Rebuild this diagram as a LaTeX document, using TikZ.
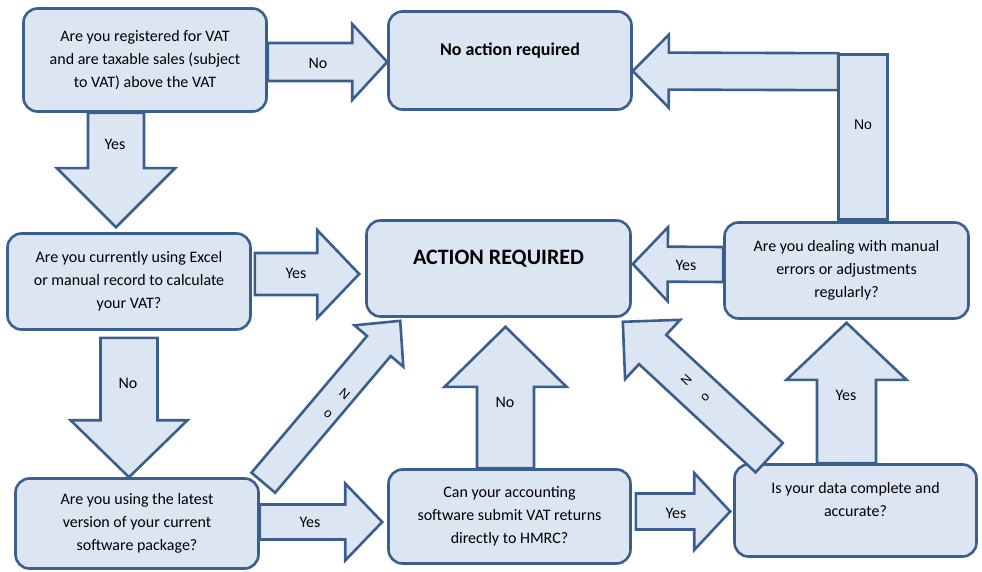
\documentclass[tikz,border=0pt]{standalone}
\usepackage{fontspec}
\setmainfont{Carlito}
\newfontfamily\arialfont{Liberation Sans}
\usetikzlibrary{calc}
\definecolor{VatEdge}{HTML}{3A5F8E}
\definecolor{VatFill}{HTML}{DCE6F2}
\tikzset{
  blkw/.store in=\blkw, blkh/.store in=\blkh, blkl/.store in=\blkl,
  blkw=18pt, blkh=38pt, blkl=36pt
}
\begin{document}
\begin{tikzpicture}[x=1pt,y=-1pt,
  qbox/.style={draw=VatEdge,fill=VatFill,line width=2.6pt,rounded corners=14pt,align=center,minimum width=243pt,inner sep=0pt,font=\fontsize{16}{23}\selectfont},
  bar/.style={draw=VatEdge,fill=VatFill,line width=2.6pt,minimum width=49pt,minimum height=165pt,inner sep=0pt},
  lbl/.style={inner sep=0pt,font=\fontsize{16}{23}\selectfont},
  dlbl/.style={inner sep=0pt,align=center,font=\arialfont\fontsize{13}{25}\selectfont},
  blk/.style={draw=VatEdge,fill=VatFill,line width=2.6pt,line join=miter,
    to path={
      ($(\tikztostart)!\blkw!90:(\tikztotarget)$)
      -- ($($(\tikztotarget)!\blkl!(\tikztostart)$)!\blkw!90:(\tikztotarget)$)
      -- ($($(\tikztotarget)!\blkl!(\tikztostart)$)!\blkh!90:(\tikztotarget)$)
      -- (\tikztotarget)
      -- ($($(\tikztotarget)!\blkl!(\tikztostart)$)!\blkh!-90:(\tikztotarget)$)
      -- ($($(\tikztotarget)!\blkl!(\tikztostart)$)!\blkw!-90:(\tikztotarget)$)
      -- ($(\tikztostart)!\blkw!-90:(\tikztotarget)$)
      -- cycle}}
]
\useasboundingbox (0,0) rectangle (982,572);

\node[qbox,minimum height=103pt] (q1) at (145,60) {Are you registered for VAT\\and are taxable sales (subject\\to VAT) above the VAT};
\node[qbox,minimum height=98pt] (noact) at (510,60.5) {\textbf{\fontsize{18}{23}\selectfont No action required}\\ \mbox{}};
\node[qbox,minimum height=96pt] (q2) at (129,281.5) {Are you currently using Excel\\or manual record to calculate\\your VAT?};
\node[qbox,minimum width=264pt,minimum height=96pt] (act) at (498.5,268.5) {\textbf{\fontsize{22}{23}\selectfont ACTION REQUIRED}\\ \mbox{}};
\node[qbox,minimum height=90pt] (q3) at (137,523.5) {Are you using the latest\\version of your current\\software package?};
\node[qbox,minimum width=242pt,minimum height=94pt] (q4) at (509.5,516.5) {Can your accounting\\software submit VAT returns\\directly to HMRC?};
\node[qbox,minimum width=242pt,minimum height=92pt] (q5) at (855.5,510.5) {Is your data complete and\\accurate?\\ \mbox{}};
\node[qbox,minimum width=244pt,minimum height=96pt] (q6) at (846.5,270.5) {Are you dealing with manual\\errors or adjustments\\regularly?};
\node[bar] (bar) at (863,137) {};

\draw[blk,blkw=19pt,blkh=38pt,blkl=35pt] ($(q1.east)+(0,2)$) to ($(noact.west)+(0,1.5)$);
\draw[blk,blkw=28pt,blkh=59pt,blkl=59pt] ($(q1.south)+(-29,0)$) to ($(q2.north)+(-13,-5)$);
\draw[blk,blkw=21pt,blkh=44pt,blkl=42pt] ($(q2.east)+(3,-7.5)$) to ($(act.west)+(-6,5.5)$);
\draw[blk,blkw=28.5pt,blkh=58.5pt,blkl=57pt] ($(q2.south)+(0,7)$) to (q2.south |- q3.north);
\draw[blk,blkw=17.5pt,blkh=38.5pt,blkl=37pt] ($(q3.east)+(0,-1.5)$) to ($(q4.west)+(-5,5.5)$);
\draw[blk,blkw=15.5pt,blkh=32pt,blkl=33pt] ($(q3.north east)+(3.5,5.5)$) to ($(act.south west)+(35,3)$);
\draw[blk,blkw=28.5pt,blkh=61pt,blkl=60pt] ($(q4.north)+(-4,0)$) to ($(act.south)+(7,9)$);
\draw[blk,blkw=18pt,blkh=38.5pt,blkl=36pt] ($(q4.east)+(4,-5)$) to ($(q5.west)+(-3,1)$);
\draw[blk,blkw=20pt,blkh=40.5pt,blkl=40.7pt] ($(q5.north west)+(36,-5.5)$) to ($(act.south east)+(-9,4)$);
\draw[blk,blkw=29.5pt,blkh=60pt,blkl=57pt] ($(q5.north)+(-9,0)$) to ($(q6.south)+(0,3)$);
\draw[blk,blkw=17.5pt,blkh=37pt,blkl=35pt] ($(q6.west)+(0,-6)$) to ($(act.east)+(1,-4.5)$);
\draw[blk,blkw=18.5pt,blkh=36.5pt,blkl=36pt] ($(bar.north west)+(1,18.5)$) to ($(noact.east)+(0,10.5)$);

\node[lbl] (l1) at (318,63) {No};
\node[lbl] (l2) at (115,144) {Yes};
\node[lbl] (l3) at (296,273) {Yes};
\node[lbl] (l4) at (128,383) {No};
\node[lbl] (l5) at (310,522) {Yes};
\node[dlbl,rotate=-40.2] (l6) at (336.5,404) {N\\o};
\node[lbl] (l7) at (505,402) {No};
\node[lbl] (l8) at (676,513) {Yes};
\node[dlbl,rotate=47.1] (l9) at (695.5,388.5) {N\\o};
\node[lbl] (l10) at (846,395) {Yes};
\node[lbl] (l11) at (686,265) {Yes};
\node[lbl,font=\arialfont\fontsize{14}{20}\selectfont] (l12) at (863,125) {No};
\end{tikzpicture}
\end{document}
